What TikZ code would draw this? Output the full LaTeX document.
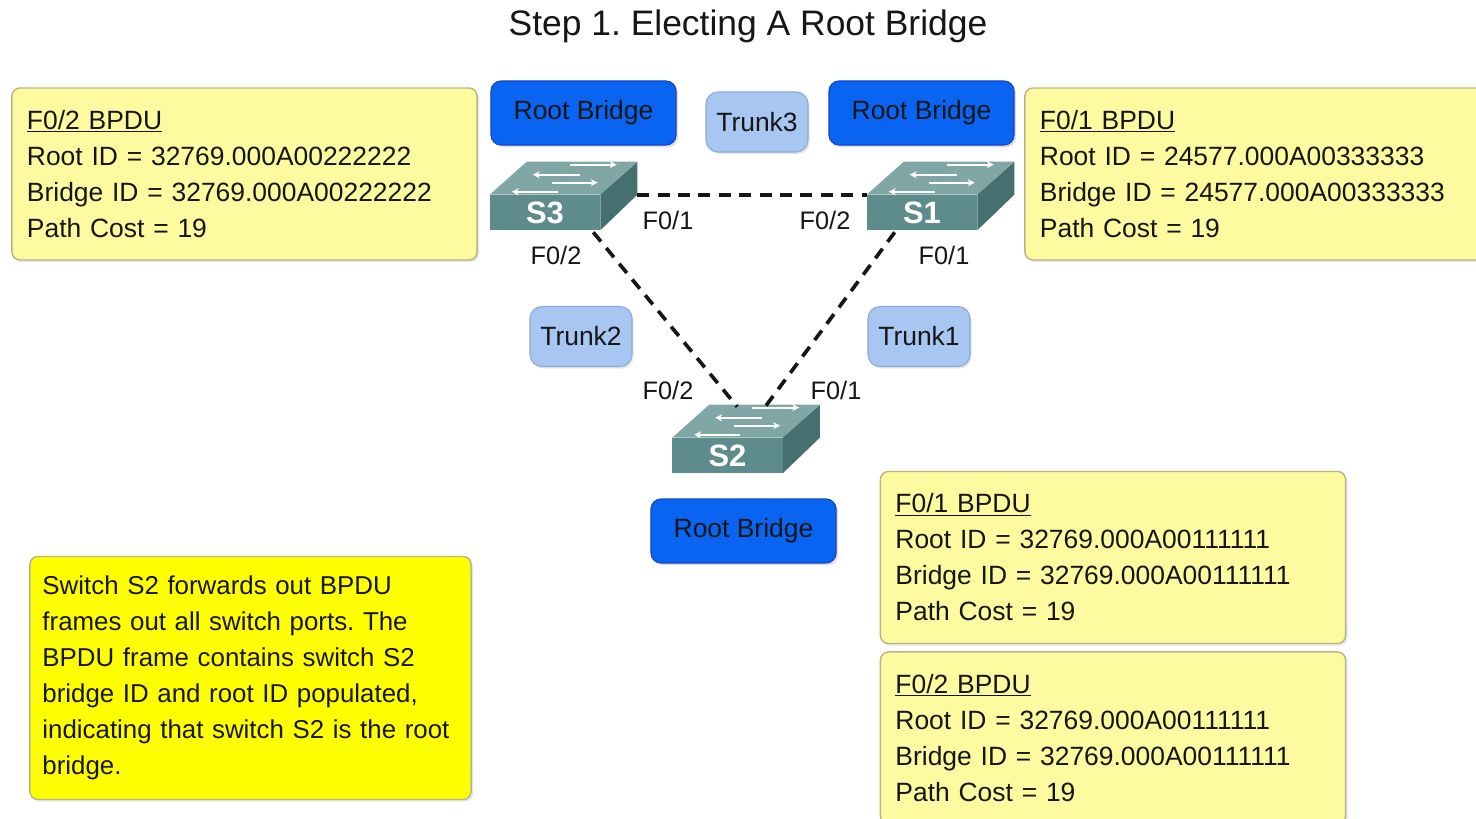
\documentclass[tikz,border=0pt]{standalone}
\usepackage{fontspec}
\setmainfont{Liberation Sans}
\usetikzlibrary{positioning, calc, arrows.meta, shadows}

\definecolor{bpduyellow}{RGB}{253,250,160}
\definecolor{noteyellow}{RGB}{255,255,0}
\definecolor{boxedge}{RGB}{185,180,130}
\definecolor{rootblue}{RGB}{10,100,242}
\definecolor{rootedge}{RGB}{20,70,200}
\definecolor{trunkblue}{RGB}{168,198,242}
\definecolor{trunkedge}{RGB}{145,170,215}
\definecolor{swtopc}{RGB}{128,166,166}
\definecolor{swfrontc}{RGB}{94,140,140}
\definecolor{swsidec}{RGB}{70,112,112}
\definecolor{ink}{RGB}{22,22,22}

% top and side of a switch, hung on the front face node
\newcommand\switchfaces[1]{%
  \fill[swtopc] (#1.north west) -- ++(37,-33) -- ++(110,0) -- (#1.north east) -- cycle;
  \fill[swsidec] (#1.north east) -- ++(37,-33) -- ++(0,33) -- (#1.south east) -- cycle;
  \foreach \a/\b/\c in {80/127/30, 90/43/20, 62/108/12, 68/22/3}
    \draw[swarrow] ($(#1.north west)+(\a,-\c)$) -- ($(#1.north west)+(\b,-\c)$);
}

\begin{document}
\frenchspacing
\begin{tikzpicture}[x=0.025cm, y=-0.025cm,
    txt/.style={text=ink, font=\fontsize{18.8}{25.6}\selectfont},
    bpdu/.style={txt, draw=boxedge, line width=1pt, fill=bpduyellow, rounded corners=0.2cm,
      text width=10.875cm, inner xsep=0.375cm, minimum height=4.3cm, align=left,
      drop shadow={opacity=0.2, shadow xshift=0.05cm, shadow yshift=-0.05cm}},
    note/.style={bpdu, fill=noteyellow, font=\fontsize{18.4}{25.6}\selectfont,
      text width=10.4cm, inner xsep=0.3125cm, minimum height=6.075cm},
    rootbox/.style={txt, draw=rootedge, line width=0.8pt, fill=rootblue, rounded corners=0.25cm,
      minimum width=4.625cm, minimum height=1.6cm,
      drop shadow={opacity=0.25, shadow xshift=0.05cm, shadow yshift=-0.06cm}},
    trunk/.style={txt, draw=trunkedge, line width=0.8pt, fill=trunkblue, rounded corners=0.3cm,
      minimum width=2.55cm, minimum height=1.5cm,
      drop shadow={opacity=0.2, shadow xshift=0.04cm, shadow yshift=-0.05cm}},
    swbox/.style={fill=swfrontc, minimum width=2.75cm, minimum height=0.875cm, inner sep=0pt,
      text=white, font=\bfseries\fontsize{22}{22}\selectfont},
    swarrow/.style={white, line width=1.4pt, -{Stealth[length=5pt, width=5pt]}},
    port/.style={text=ink, font=\fontsize{18}{18}\selectfont},
    link/.style={ink, line width=2.6pt, dash pattern=on 8.5pt off 6pt}]

  \useasboundingbox (0,0) rectangle (1476,818);
  \clip (0,0) rectangle (1476,818);

  \node[text=ink, font=\fontsize{25.2}{30}\selectfont] (title) at (748,26) {Step 1. Electing A Root Bridge};

  % BPDU boxes
  \node[bpdu] (bpdu3) at (244.5,174) {\underline{F0/2 BPDU}\\Root ID = 32769.000A00222222\\Bridge ID = 32769.000A00222222\\Path Cost = 19};
  \node[bpdu] (bpdu1) at (1257.5,174) {\underline{F0/1 BPDU}\\Root ID = 24577.000A00333333\\Bridge ID = 24577.000A00333333\\Path Cost = 19};
  \node[bpdu] (bpdu2a) at (1113,557.5) {\underline{F0/1 BPDU}\\Root ID = 32769.000A00111111\\Bridge ID = 32769.000A00111111\\Path Cost = 19};
  \node[bpdu, below=0.175cm of bpdu2a] (bpdu2b) {\underline{F0/2 BPDU}\\Root ID = 32769.000A00111111\\Bridge ID = 32769.000A00111111\\Path Cost = 19};
  \node[note] (note) at (250.5,678) {Switch S2 forwards out BPDU\\frames out all switch ports. The\\BPDU frame contains switch S2\\bridge ID and root ID populated,\\indicating that switch S2 is the root\\bridge.};

  % labels over the switches
  \node[rootbox] (root3) at (583.5,113) {Root Bridge};
  \node[rootbox] (root1) at (921.5,113) {Root Bridge};
  \node[rootbox] (root2) at (743.5,531) {Root Bridge};
  \node[trunk] (trunk3) at (757,122) {Trunk3};
  \node[trunk] (trunk2) at (581,336.5) {Trunk2};
  \node[trunk] (trunk1) at (919,336.5) {Trunk1};

  % switches
  \node[swbox] (s3) at (545,212.5) {S3};
  \node[swbox] (s1) at (922,212.5) {S1};
  \node[swbox] (s2) at (727.5,455.5) {S2};
  \switchfaces{s3}
  \switchfaces{s1}
  \switchfaces{s2}

  % trunks
  \draw[link] ($(s3.north east)+(37,0)$) -- (s1.north west);
  \draw[link] ($(s3.south east)+(-7,2)$) -- ($(s2.north west)+(65,-31)$);
  \draw[link] ($(s1.south west)+(28,2)$) -- ($(s2.north west)+(93,-31)$);

  % ports
  \node[port] (p31) at (668,220) {F0/1};
  \node[port] (p32) at (556,255) {F0/2};
  \node[port] (p12) at (825,220) {F0/2};
  \node[port] (p11) at (944,255) {F0/1};
  \node[port] (p22) at (668,390) {F0/2};
  \node[port] (p21) at (836,390) {F0/1};
\end{tikzpicture}
\end{document}
